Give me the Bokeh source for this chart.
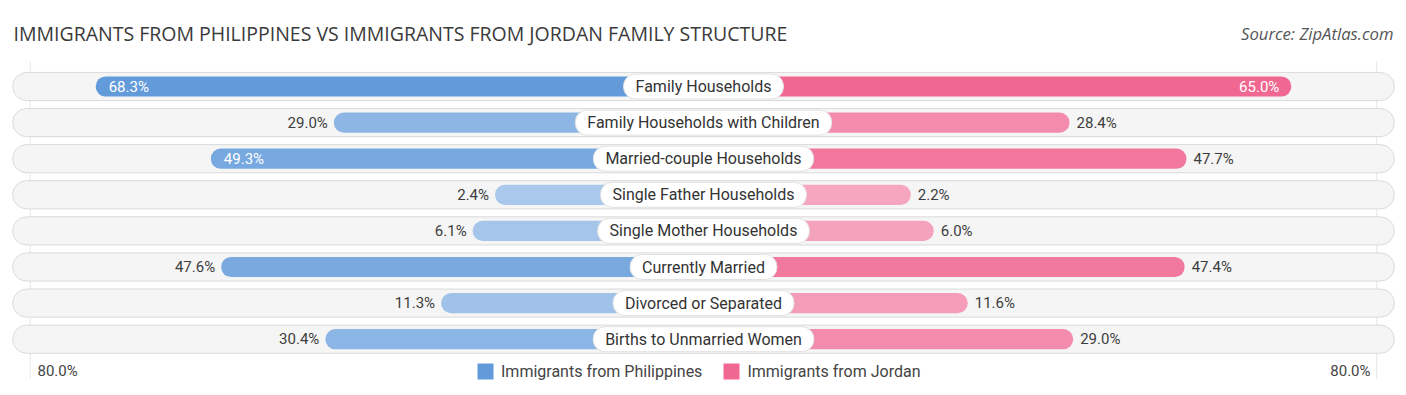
from bokeh.plotting import figure
from bokeh.models import ColumnDataSource, Range1d, Label, Legend, LegendItem
from bokeh.embed import file_html
from bokeh.resources import INLINE
from bokeh.core.properties import value

categories = ["Family Households", "Family Households with Children", "Married-couple Households",
              "Single Father Households", "Single Mother Households", "Currently Married",
              "Divorced or Separated", "Births to Unmarried Women"]
philippines = [68.3, 29.0, 49.3, 2.4, 6.1, 47.6, 11.3, 30.4]
jordan = [65.0, 28.4, 47.7, 2.2, 6.0, 47.4, 11.6, 29.0]
series_names = ["Immigrants from Philippines", "Immigrants from Jordan"]
axis_max = 80.0

OFF = 32.0  # room reserved for the centre label (in axis units)
SCALE = 6.06  # px per unit
W, H = 1406, 395
half = (W / 2) / SCALE
ROW = 36.1
TOP = 86.0  # px from figure top to first row centre

def mix(c1, c2, t):
    return "#%02x%02x%02x" % tuple(int(round(a + (b - a) * t)) for a, b in zip(c1, c2))

blue_light, blue_dark = (172, 202, 236), (99, 155, 218)
pink_light, pink_dark = (246, 168, 193), (240, 100, 143)

def col(v, light, dark):
    return mix(light, dark, min(1.0, v / 68.0))

n = len(categories)
ys = list(range(n))

p = figure(width=W, height=H, output_backend="svg", toolbar_location=None,
           x_range=Range1d(-half, half),
           y_range=Range1d((H - TOP) / ROW, -TOP / ROW),
           min_border=0, outline_line_color=None)
p.axis.visible = False
p.grid.visible = False
p.background_fill_color = "white"
p.border_fill_color = "white"

# faint guide lines
gx = OFF + axis_max - 0.9
p.segment(x0=[-gx, gx], x1=[-gx, gx], y0=[-0.7, -0.7], y1=[n + 0.1, n + 0.1],
          line_color="#e6e6e6", line_width=1)

# background pills
bg = ColumnDataSource(dict(y=ys, l=[-(OFF + axis_max + 2)] * n, r=[OFF + axis_max + 2] * n))
p.hbar(y="y", left="l", right="r", height=0.78, source=bg, fill_color="#f5f5f5",
       line_color="#dadada", line_width=1, border_radius=14)

left_src = ColumnDataSource(dict(
    y=ys, l=[-(OFF + v) for v in philippines], r=[0] * n,
    c=[col(v, blue_light, blue_dark) for v in philippines]))
right_src = ColumnDataSource(dict(
    y=ys, l=[0] * n, r=[OFF + v for v in jordan],
    c=[col(v, pink_light, pink_dark) for v in jordan]))
rl = p.hbar(y="y", left="l", right="r", height=0.56, source=left_src, fill_color="c", line_color=None, border_radius=10)
rr = p.hbar(y="y", left="l", right="r", height=0.56, source=right_src, fill_color="c", line_color=None, border_radius=10)

# value labels
def val_src(vals, side):
    xs, txt, align, off, color = [], [], [], [], []
    for v in vals:
        inside = v > 48
        xs.append(side * (OFF + v))
        txt.append(f"{v:.1f}%")
        if side < 0:
            align.append("left" if inside else "right")
            off.append(13 if inside else -6)
        else:
            align.append("right" if inside else "left")
            off.append(-12 if inside else 7)
        color.append("white" if inside else "#3d3d3d")
    return ColumnDataSource(dict(x=xs, y=ys, t=txt, a=align, o=off, c=color))

for side, vals in ((-1, philippines), (1, jordan)):
    p.text(x="x", y="y", text="t", source=val_src(vals, side), text_align="a", x_offset="o",
           text_baseline="middle", text_color="c", text_font=value("Roboto"), text_font_size="15px")

# centre labels
cat_src = ColumnDataSource(dict(x=[0] * n, y=ys, t=categories))
p.text(x="x", y="y", text="t", source=cat_src, text_align="center", text_baseline="middle",
       text_color="#333333", text_font=value("Roboto"), text_font_size="16px",
       background_fill_color="white", border_line_color="#e2e2e2", border_radius=12, padding=(12, 3))

# legend
legend = Legend(items=[LegendItem(label=series_names[0], renderers=[rl], index=0),
                       LegendItem(label=series_names[1], renderers=[rr], index=0)],
                orientation="horizontal", location=(475, 14), background_fill_alpha=0,
                border_line_color=None, label_text_font="Roboto", label_text_font_size="16px",
                label_text_color="#444444", glyph_width=20, glyph_height=20, spacing=19,
                label_standoff=6, padding=0, margin=0)
p.add_layout(legend)

p.add_layout(Label(x=37, y=25, x_units="screen", y_units="screen", text="80.0%", text_align="left",
                   text_baseline="middle", text_font="Roboto", text_font_size="15px", text_color="#444444"))
p.add_layout(Label(x=1370, y=25, x_units="screen", y_units="screen", text="80.0%", text_align="right",
                   text_baseline="middle", text_font="Roboto", text_font_size="15px", text_color="#444444"))

p.add_layout(Label(x=13, y=H - 33, x_units="screen", y_units="screen",
                   text="IMMIGRANTS FROM PHILIPPINES VS IMMIGRANTS FROM JORDAN FAMILY STRUCTURE",
                   text_align="left", text_baseline="middle", text_font="Open Sans",
                   text_font_size="19.5px", text_color="#3a3a3a"))
p.add_layout(Label(x=1393, y=H - 33, x_units="screen", y_units="screen", text="Source: ZipAtlas.com",
                   text_align="right", text_baseline="middle", text_font="Open Sans",
                   text_font_style="italic", text_font_size="16.7px", text_color="#555555"))

open("out.html", "w").write(file_html(p, INLINE))
